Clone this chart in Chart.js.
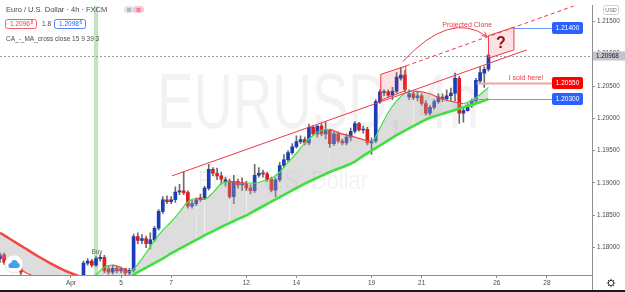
<!DOCTYPE html>
<html>
<head>
<meta charset="utf-8">
<script src="https://cdn.jsdelivr.net/npm/chart.js@4.4.1/dist/chart.umd.min.js"></script>
<style>
  html, body { margin: 0; padding: 0; background: #fff; }
  canvas { display: block; }
</style>
</head>
<body>
<canvas id="eurusdChart" width="625" height="292"></canvas>
<script>
// 4h candles, index 0 = first candle at the left edge (Mar 29)
const opens = [1.1783, 1.1789, 1.1777, 1.1771, 1.1776, 1.1773,
  null, null, null, null, null, null, null, null, null, null, null, null, null, null,
  1.1753, 1.1776, 1.1779, 1.1773, 1.1783, 1.1785, 1.1767, 1.1762, 1.1768, 1.1764,
  1.1767, 1.1761, 1.1765, 1.1817, 1.1811, 1.1814, 1.1806, 1.1812, 1.1830, 1.1856,
  1.1874, 1.1871, 1.1874, 1.1886, 1.1888, 1.1885, 1.1864, 1.1868, 1.1874, 1.1877,
  1.1892, 1.1921, 1.1915, 1.1911, 1.1902, 1.1903, 1.1879, 1.1902, 1.1897, 1.1899,
  1.1892, 1.1888, 1.1912, 1.1915, 1.1914, 1.1906, 1.1889, 1.1905, 1.1927, 1.1936,
  1.1947, 1.1956, 1.1964, 1.1967, 1.1962, 1.1986, 1.1976, 1.1988, 1.1976, 1.1982,
  1.1961, 1.1976, 1.1965, 1.1962, 1.1971, 1.1980, 1.1992, 1.1982, 1.1983, 1.1962,
  1.1965, 1.2026, 1.2040, 1.2041, 1.2036, 1.2042, 1.2062, 1.2067, 1.2033, 1.2038,
  1.2032, 1.2035, 1.2023, 1.2008, 1.2017, 1.2026, 1.2033, 1.2030, 1.2035, 1.2039,
  1.2062, 1.2008, 1.2012, 1.2020, 1.2027, 1.2058, 1.2070, 1.2076];
const highs = [1.1792, 1.1792, 1.1780, 1.1779, 1.1779, 1.1776,
  null, null, null, null, null, null, null, null, null, null, null, null, null, null,
  1.1779, 1.1783, 1.1782, 1.1786, 1.1789, 1.1788, 1.1771, 1.1773, 1.1771, 1.1770,
  1.1768, 1.1768, 1.1821, 1.1823, 1.1820, 1.1818, 1.1823, 1.1833, 1.1859, 1.1879,
  1.1880, 1.1879, 1.1894, 1.1898, 1.1917, 1.1888, 1.1873, 1.1877, 1.1883, 1.1895,
  1.1929, 1.1924, 1.1923, 1.1917, 1.1909, 1.1906, 1.1912, 1.1906, 1.1908, 1.1903,
  1.1897, 1.1929, 1.1924, 1.1920, 1.1917, 1.1909, 1.1908, 1.1932, 1.1944, 1.1950,
  1.1961, 1.1973, 1.1973, 1.1971, 1.1991, 1.1989, 1.1989, 1.1992, 1.1995, 1.1983,
  1.1980, 1.1979, 1.1968, 1.1976, 1.1985, 1.1995, 1.1994, 1.1988, 1.1986, 1.1970,
  1.2029, 1.2044, 1.2044, 1.2044, 1.2048, 1.2071, 1.2079, 1.2074, 1.2044, 1.2041,
  1.2041, 1.2038, 1.2027, 1.2020, 1.2029, 1.2038, 1.2038, 1.2044, 1.2047, 1.2070,
  1.2065, 1.2017, 1.2023, 1.2030, 1.2062, 1.2079, 1.2080, 1.2100];
const lows = [1.1777, 1.1774, 1.1768, 1.1767, 1.1768, 1.1755,
  null, null, null, null, null, null, null, null, null, null, null, null, null, null,
  1.1750, 1.1773, 1.1770, 1.1771, 1.1779, 1.1761, 1.1759, 1.1759, 1.1761, 1.1761,
  1.1758, 1.1756, 1.1762, 1.1806, 1.1806, 1.1800, 1.1798, 1.1809, 1.1827, 1.1853,
  1.1868, 1.1868, 1.1870, 1.1882, 1.1882, 1.1861, 1.1861, 1.1865, 1.1871, 1.1874,
  1.1889, 1.1911, 1.1905, 1.1898, 1.1895, 1.1876, 1.1868, 1.1892, 1.1888, 1.1888,
  1.1883, 1.1885, 1.1909, 1.1909, 1.1902, 1.1886, 1.1879, 1.1902, 1.1924, 1.1933,
  1.1944, 1.1954, 1.1961, 1.1959, 1.1959, 1.1973, 1.1971, 1.1973, 1.1968, 1.1955,
  1.1958, 1.1962, 1.1959, 1.1959, 1.1965, 1.1977, 1.1980, 1.1977, 1.1959, 1.1944,
  1.1962, 1.2023, 1.2035, 1.2033, 1.2029, 1.2039, 1.2059, 1.2041, 1.2029, 1.2029,
  1.2027, 1.2020, 1.2005, 1.2005, 1.2014, 1.2023, 1.2026, 1.2027, 1.2027, 1.2027,
  1.1992, 1.1994, 1.2011, 1.2017, 1.2024, 1.2054, 1.2048, 1.2073];
const closes = [1.1789, 1.1777, 1.1771, 1.1776, 1.1773, 1.1762,
  null, null, null, null, null, null, null, null, null, null, null, null, null, null,
  1.1776, 1.1779, 1.1773, 1.1783, 1.1785, 1.1764, 1.1762, 1.1768, 1.1764, 1.1767,
  1.1761, 1.1765, 1.1817, 1.1811, 1.1814, 1.1806, 1.1812, 1.1830, 1.1856, 1.1874,
  1.1871, 1.1874, 1.1886, 1.1888, 1.1885, 1.1864, 1.1868, 1.1874, 1.1877, 1.1892,
  1.1921, 1.1915, 1.1911, 1.1906, 1.1905, 1.1879, 1.1902, 1.1897, 1.1899, 1.1892,
  1.1888, 1.1912, 1.1915, 1.1914, 1.1905, 1.1889, 1.1905, 1.1927, 1.1936, 1.1947,
  1.1956, 1.1964, 1.1967, 1.1962, 1.1986, 1.1976, 1.1988, 1.1976, 1.1982, 1.1961,
  1.1976, 1.1965, 1.1962, 1.1971, 1.1980, 1.1992, 1.1982, 1.1983, 1.1962, 1.1965,
  1.2026, 1.2041, 1.2041, 1.2036, 1.2042, 1.2064, 1.2067, 1.2045, 1.2038, 1.2032,
  1.2035, 1.2023, 1.2008, 1.2017, 1.2026, 1.2033, 1.2030, 1.2035, 1.2039, 1.2062,
  1.2008, 1.2012, 1.2020, 1.2027, 1.2059, 1.2071, 1.2076, 1.2097];

// moving averages of the indicator, read at these candle indices
const maIdx = [0, 3, 6, 9, 12, 15, 18, 21, 23, 25, 27, 29, 31, 33, 35, 37, 39, 41, 43, 45,
  47, 49, 51, 53, 55, 57, 59, 61, 63, 65, 67, 69, 71, 73, 75, 77, 79, 81, 83, 85,
  87, 89, 91, 93, 95, 97, 99, 101, 103, 105, 107, 109, 111, 113, 115, 117];
const fastMA = [1.1788, 1.1776, 1.1762, 1.1753, 1.1745, 1.1741, 1.1744, 1.1747, 1.1758, 1.1770,
  1.1773, 1.1769, 1.1763, 1.1774, 1.1792, 1.1811, 1.1827, 1.1840, 1.1855, 1.1871,
  1.1876, 1.1875, 1.1885, 1.1899, 1.1902, 1.1901, 1.1900, 1.1900, 1.1903, 1.1907,
  1.1917, 1.1932, 1.1946, 1.1962, 1.1974, 1.1982, 1.1983, 1.1978, 1.1974, 1.1971,
  1.1967, 1.1964, 1.1985, 1.2009, 1.2027, 1.2039, 1.2042, 1.2041, 1.2038, 1.2032,
  1.2028, 1.2025, 1.2023, 1.2028, 1.2037, 1.2048];
const slowMA = [1.1823, 1.1811, 1.1799, 1.1787, 1.1776, 1.1766, 1.1758, 1.1751, 1.1746, 1.1745,
  1.1747, 1.1749, 1.1754, 1.1762, 1.1769, 1.1776, 1.1783, 1.1791, 1.1798, 1.1805,
  1.1812, 1.1819, 1.1825, 1.1832, 1.1838, 1.1844, 1.1850, 1.1857, 1.1864, 1.1871,
  1.1878, 1.1885, 1.1892, 1.1899, 1.1905, 1.1911, 1.1917, 1.1922, 1.1927, 1.1933,
  1.1942, 1.1950, 1.1958, 1.1966, 1.1974, 1.1981, 1.1988, 1.1995, 1.2001, 1.2005,
  1.2009, 1.2013, 1.2017, 1.2021, 1.2025, 1.2030];

const dayTickIdx = [17, 29, 41, 59, 71, 89, 101, 119, 131];
const dayTickLabels = ['Apr', '5', '7', '12', '14', '19', '21', '26', '28'];
const priceTicks = [1.180, 1.185, 1.190, 1.195, 1.200, 1.205, 1.210, 1.215];

// drawings on the chart: [candle index, price]
const trendLine = [[41.2, 1.1911], [126.2, 1.2106]];
const cloneLine = [[97.2, 1.2081], [141.8, 1.2184]];
const sourceBox = [[91.2, 1.2068], [97.2, 1.2081], [97.2, 1.2043], [91.2, 1.2028]];
const cloneBox = [[117.0, 1.2128], [123.1, 1.2141], [123.1, 1.2106], [117.0, 1.2093]];
const cloneArc = [[96.5, 1.2088], [107.8, 1.2167], [116.6, 1.2127]];
const buyIdx = 23;
const lastPrice = 1.20968;
const levels = [
  { price: 1.2140, from: 123.1, color: '#2962ff', line: '#6f95f5', text: '1.21400' },
  { price: 1.2055, from: 114.2, color: '#ff0000', line: '#f7a1a6', text: '1.20550' },
  { price: 1.2030, from: 113.3, color: '#2962ff', line: '#6f95f5', text: '1.20300' }
];

const FONT = '"Liberation Sans", Arial, sans-serif';
const upColor = '#1c3db8';
const downColor = '#e01b1b';
const wickColor = '#6e6e6e';
const maUp = '#3fe03f';
const maDown = '#f24848';

const wickData = [], bodyData = [], bodyColors = [];
opens.forEach((o, i) => {
  if (o === null) return;
  wickData.push({ x: i, y: [lows[i], highs[i]] });
  bodyData.push({ x: i, y: [Math.min(o, closes[i]), Math.max(o, closes[i])] });
  bodyColors.push(closes[i] >= o ? upColor : downColor);
});

const slopeColor = ctx => ctx.p1.parsed.y < ctx.p0.parsed.y ? maDown : maUp;

function narrowText(ctx, text, x, y, size, squeeze) {
  ctx.save();
  ctx.translate(x, y);
  ctx.scale(squeeze, 1);
  ctx.font = size + 'px ' + FONT;
  ctx.fillText(text, 0, 0);
  ctx.restore();
}

const backdropPlugin = {
  id: 'backdrop',
  beforeDatasetsDraw(chart) {
    const { ctx, chartArea: a, scales: { x } } = chart;
    ctx.save();
    ctx.beginPath();
    ctx.rect(a.left, a.top, a.right - a.left, a.bottom - a.top);
    ctx.clip();
    ctx.fillStyle = 'rgba(0, 0, 0, 0.05)';
    ctx.textAlign = 'center';
    ctx.textBaseline = 'middle';
    narrowText(ctx, 'EURUSD, 4h', 318, a.top + 101, 78, 0.7);
    narrowText(ctx, 'Euro / U.S. Dollar', 283, a.top + 176, 26, 0.84);
    const x0 = x.getPixelForValue(buyIdx - 0.5);
    const x1 = x.getPixelForValue(buyIdx + 0.5);
    ctx.fillStyle = 'rgba(76, 175, 80, 0.35)';
    ctx.fillRect(x0, a.top, x1 - x0, a.bottom - a.top);
    ctx.restore();
  }
};

const drawingsPlugin = {
  id: 'drawings',
  afterDatasetsDraw(chart) {
    const { ctx, chartArea: a, scales: { x, y } } = chart;
    const px = v => x.getPixelForValue(v);
    const py = v => y.getPixelForValue(v);
    ctx.save();
    ctx.beginPath();
    ctx.rect(a.left, a.top, a.right - a.left, a.bottom - a.top);
    ctx.clip();

    // last price line
    ctx.strokeStyle = '#9a9ca3';
    ctx.lineWidth = 1;
    ctx.setLineDash([2, 2]);
    ctx.beginPath();
    ctx.moveTo(a.left, Math.round(py(lastPrice)) + 0.5);
    ctx.lineTo(a.right, Math.round(py(lastPrice)) + 0.5);
    ctx.stroke();

    // projected channel top
    ctx.strokeStyle = '#f23645';
    ctx.setLineDash([4, 3]);
    ctx.beginPath();
    ctx.moveTo(px(cloneLine[0][0]), py(cloneLine[0][1]));
    ctx.lineTo(px(cloneLine[1][0]), py(cloneLine[1][1]));
    ctx.stroke();
    ctx.setLineDash([]);

    // trend line
    ctx.beginPath();
    ctx.moveTo(px(trendLine[0][0]), py(trendLine[0][1]));
    ctx.lineTo(px(trendLine[1][0]), py(trendLine[1][1]));
    ctx.stroke();

    // boxes
    [sourceBox, cloneBox].forEach(box => {
      ctx.beginPath();
      box.forEach(([i, p], k) => k ? ctx.lineTo(px(i), py(p)) : ctx.moveTo(px(i), py(p)));
      ctx.closePath();
      ctx.fillStyle = 'rgba(242, 54, 69, 0.15)';
      ctx.fill();
      ctx.strokeStyle = '#f23645';
      ctx.stroke();
    });

    // arc with arrow
    const [s, c, e] = cloneArc.map(([i, p]) => [px(i), py(p)]);
    ctx.beginPath();
    ctx.moveTo(s[0], s[1]);
    ctx.quadraticCurveTo(c[0], c[1], e[0], e[1]);
    ctx.stroke();
    const ang = Math.atan2(e[1] - c[1], e[0] - c[0]);
    ctx.beginPath();
    ctx.moveTo(e[0] - 5 * Math.cos(ang - 0.5), e[1] - 5 * Math.sin(ang - 0.5));
    ctx.lineTo(e[0], e[1]);
    ctx.lineTo(e[0] - 5 * Math.cos(ang + 0.5), e[1] - 5 * Math.sin(ang + 0.5));
    ctx.stroke();

    ctx.fillStyle = '#f23645';
    ctx.font = '7px ' + FONT;
    ctx.textAlign = 'center';
    ctx.textBaseline = 'middle';
    ctx.fillText('Projected Clone', px(111.9), py(1.2144));

    ctx.fillStyle = '#8b1212';
    ctx.font = 'bold 16px ' + FONT;
    ctx.fillText('?', px(120), py(1.2116));

    // levels
    const boxL = a.right - 40, boxW = 31;
    levels.forEach(l => {
      const yy = Math.round(py(l.price));
      ctx.strokeStyle = l.line;
      ctx.lineWidth = l.color === '#ff0000' ? 2 : 1;
      ctx.beginPath();
      ctx.moveTo(px(l.from), yy + 0.5);
      ctx.lineTo(boxL, yy + 0.5);
      ctx.stroke();
    });
    ctx.fillStyle = '#f23645';
    ctx.font = '7px ' + FONT;
    ctx.fillText('I sold here!', px(126), py(1.2055) - 5);
    levels.forEach(l => {
      const yy = Math.round(py(l.price));
      ctx.fillStyle = l.color;
      ctx.beginPath();
      ctx.roundRect(boxL, yy - 6, boxW, 12, 2);
      ctx.fill();
      ctx.fillStyle = '#fff';
      ctx.font = '6.5px ' + FONT;
      ctx.fillText(l.text, boxL + boxW / 2, yy + 0.5);
    });

    // buy marker
    ctx.fillStyle = '#6a6a6a';
    ctx.font = '6.5px ' + FONT;
    ctx.fillText('Buy', px(buyIdx) + 1, py(highs[buyIdx]) - 4);
    ctx.restore();
  }
};

function priceText(ctx, str, sup, x, y) {
  ctx.fillText(str, x, y);
  const w = ctx.measureText(str).width;
  const f = ctx.font;
  ctx.font = '5px ' + FONT;
  ctx.fillText(sup, x + w + 0.5, y - 2);
  ctx.font = f;
}

const overlayPlugin = {
  id: 'overlay',
  afterDraw(chart) {
    const { ctx, chartArea: a, scales: { y } } = chart;
    ctx.save();
    ctx.textBaseline = 'middle';
    ctx.textAlign = 'left';

    // header
    ctx.fillStyle = '#4a4a4a';
    ctx.font = '7.5px ' + FONT;
    ctx.fillText('Euro / U.S. Dollar · 4h · FXCM', 6, 9.5);
    ctx.fillStyle = '#e0e3eb';
    ctx.beginPath(); ctx.roundRect(124, 6, 10, 7, 3.5); ctx.fill();
    ctx.fillStyle = '#f8c6d5';
    ctx.beginPath(); ctx.roundRect(133, 6, 11, 7, 3.5); ctx.fill();
    ctx.fillStyle = '#787b86';
    ctx.fillRect(127, 8.5, 4, 0.8); ctx.fillRect(127, 10.5, 4, 0.8);
    ctx.fillStyle = '#e91e63';
    ctx.fillRect(136.5, 8.5, 4, 0.8); ctx.fillRect(136.5, 10.5, 4, 0.8);

    ctx.lineWidth = 0.8;
    ctx.fillStyle = '#fff';
    ctx.strokeStyle = '#f23645';
    ctx.beginPath(); ctx.roundRect(5.5, 19.5, 31, 9, 2); ctx.fill(); ctx.stroke();
    ctx.strokeStyle = '#2962ff';
    ctx.beginPath(); ctx.roundRect(54.5, 19.5, 31, 9, 2); ctx.fill(); ctx.stroke();
    ctx.font = '6.5px ' + FONT;
    ctx.fillStyle = '#f23645';
    priceText(ctx, '1.2096', '8', 10, 24.5);
    ctx.fillStyle = '#2962ff';
    priceText(ctx, '1.2098', '6', 59, 24.5);
    ctx.fillStyle = '#4a4a4a';
    ctx.fillText('1.8', 42, 24.5);
    ctx.font = '6.5px ' + FONT;
    ctx.fillText('CA_-_MA_cross close 15 9 39 3', 6, 39.5);

    // TradingView badge
    ctx.fillStyle = '#fff';
    ctx.strokeStyle = '#e3e3e3';
    ctx.lineWidth = 1;
    ctx.beginPath(); ctx.arc(14, 264, 9, 0, Math.PI * 2); ctx.fill(); ctx.stroke();
    ctx.fillStyle = '#41a0ea';
    ctx.beginPath();
    ctx.arc(11, 265.5, 2.6, Math.PI * 0.5, Math.PI * 1.5);
    ctx.arc(14.5, 263.5, 3.4, Math.PI * 1.1, Math.PI * 1.9);
    ctx.arc(17.5, 265.5, 2.4, Math.PI * 1.5, Math.PI * 0.5);
    ctx.closePath();
    ctx.fill();

    // axis labels on the price scale
    const ly = Math.round(y.getPixelForValue(lastPrice));
    ctx.fillStyle = '#c3c5cb';
    ctx.fillRect(a.right + 1, ly - 4.5, 625 - a.right - 1, 9);
    ctx.fillStyle = '#131722';
    ctx.font = '6.3px ' + FONT;
    ctx.fillText('1.20968', a.right + 4, ly);

    ctx.fillStyle = '#fff';
    ctx.strokeStyle = '#cfd1d6';
    ctx.beginPath(); ctx.roundRect(603.5, 5.5, 15, 9, 2); ctx.fill(); ctx.stroke();
    ctx.fillStyle = '#6a6d78';
    ctx.font = '5.5px ' + FONT;
    ctx.textAlign = 'center';
    ctx.fillText('USD', 611, 10);

    // settings gear
    ctx.strokeStyle = '#3a3a3a';
    ctx.lineWidth = 1;
    ctx.beginPath(); ctx.arc(611, 283, 2.6, 0, Math.PI * 2); ctx.stroke();
    for (let k = 0; k < 8; k++) {
      const t = k * Math.PI / 4;
      ctx.beginPath();
      ctx.moveTo(611 + 2.6 * Math.cos(t), 283 + 2.6 * Math.sin(t));
      ctx.lineTo(611 + 4.2 * Math.cos(t), 283 + 4.2 * Math.sin(t));
      ctx.stroke();
    }

    // frame
    ctx.fillStyle = '#8c8f96';
    ctx.fillRect(a.right, a.bottom, 1, 292 - a.bottom);
    ctx.fillStyle = '#1a1a1a';
    ctx.fillRect(0, 290, 625, 2);
    ctx.restore();
  }
};

Chart.defaults.font.family = FONT;

new Chart(document.getElementById('eurusdChart'), {
  type: 'bar',
  data: {
    datasets: [
      {
        label: 'wicks',
        data: wickData,
        backgroundColor: wickColor,
        barThickness: 1,
        grouped: false,
        order: 4,
        clip: 0
      },
      {
        label: 'bodies',
        data: bodyData,
        backgroundColor: bodyColors,
        barThickness: 3,
        minBarLength: 1,
        grouped: false,
        order: 3,
        clip: 0
      },
      {
        type: 'line',
        label: 'MA fast',
        data: maIdx.map((v, k) => ({ x: v, y: fastMA[k] })),
        borderWidth: 1.2,
        pointRadius: 0,
        cubicInterpolationMode: 'monotone',
        segment: { borderColor: slopeColor },
        borderColor: maUp,
        fill: { target: 3, above: 'rgba(165, 165, 165, 0.38)', below: 'rgba(165, 165, 165, 0.38)' },
        order: 2,
        clip: 0
      },
      {
        type: 'line',
        label: 'MA slow',
        data: maIdx.map((v, k) => ({ x: v, y: slowMA[k] })),
        borderWidth: 2.6,
        pointRadius: 0,
        cubicInterpolationMode: 'monotone',
        segment: { borderColor: slopeColor },
        borderColor: maUp,
        fill: false,
        order: 1,
        clip: 0
      }
    ]
  },
  options: {
    responsive: false,
    animation: false,
    devicePixelRatio: 1,
    layout: { padding: 0 },
    plugins: {
      legend: { display: false },
      tooltip: { enabled: false }
    },
    scales: {
      x: {
        type: 'linear',
        min: 0,
        max: 141.8,
        offset: false,
        afterBuildTicks: s => { s.ticks = dayTickIdx.map(v => ({ value: v })); },
        afterFit: s => { s.height = 17; },
        ticks: {
          autoSkip: false,
          maxRotation: 0,
          padding: 1,
          color: '#4a4a4a',
          font: { size: 6.5 },
          callback: v => dayTickLabels[dayTickIdx.indexOf(v)]
        },
        grid: { drawOnChartArea: false, tickLength: 3, color: '#8c8f96', offset: false },
        border: { color: '#8c8f96' }
      },
      y: {
        position: 'right',
        min: 1.17576,
        max: 1.21742,
        afterBuildTicks: s => { s.ticks = priceTicks.map(v => ({ value: v })); },
        afterFit: s => { s.width = 33; },
        ticks: {
          padding: 2,
          color: '#4a4a4a',
          font: { size: 6.3 },
          callback: v => v.toFixed(5)
        },
        grid: { drawOnChartArea: false, tickLength: 3, color: '#8c8f96' },
        border: { color: '#8c8f96' }
      }
    }
  },
  plugins: [backdropPlugin, drawingsPlugin, overlayPlugin]
});
</script>
</body>
</html>
